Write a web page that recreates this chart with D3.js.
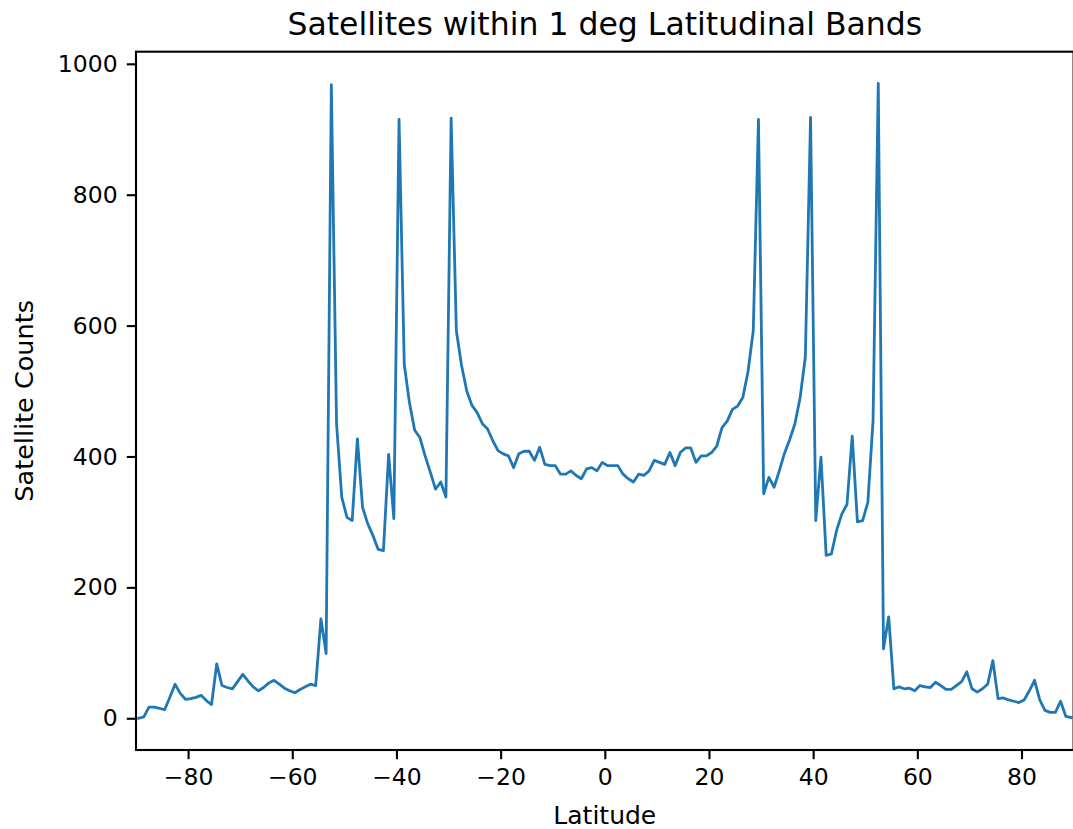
<!DOCTYPE html>
<html>
<head>
<meta charset="utf-8">
<script src="https://cdn.jsdelivr.net/npm/d3@7"></script>
<style>
  html, body { margin: 0; padding: 0; background: #ffffff; }
  svg { display: block; }
  text { font-family: "DejaVu Sans", sans-serif; fill: #000; }
</style>
</head>
<body>
<svg id="chart" width="1073" height="829"></svg>
<script>
// Satellite counts per 1-degree latitude band, band centres from -89.5 to 89.5
const latitudes = d3.range(-89.5, 90, 1);

const countsSouth = [
  0, 2, 17, 17, 15, 13, 32, 52, 38, 29,
  30, 32, 35, 27, 21, 83, 50, 47, 45, 56,
  67, 57, 48, 42, 47, 54, 58, 52, 46, 42,
  39, 44, 48, 52, 50, 152, 99, 968, 450, 338,
  307, 302, 427, 322, 297, 279, 258, 256, 403, 305,
  915, 541, 482, 440, 429, 401, 376, 350, 361, 338,
  917, 592, 539, 500, 478, 467, 450, 442, 424, 409,
  404, 401, 383, 404, 408, 408, 394, 414, 388, 386,
  386, 373, 373, 378, 371, 366, 381, 383, 378, 391
];

const countsNorth = [
  386, 386, 386, 373, 366, 361, 373, 371, 378, 394,
  391, 388, 406, 386, 406, 413, 413, 391, 401, 401,
  406, 416, 444, 454, 472, 477, 490, 530, 592, 915,
  343, 368, 353, 378, 405, 426, 450, 490, 552, 918,
  302, 399, 249, 251, 287, 312, 327, 431, 300, 302,
  330, 455, 970, 106, 155, 45, 48, 45, 46, 42,
  50, 48, 47, 55, 50, 44, 44, 50, 56, 71,
  45, 40, 45, 52, 88, 30, 31, 28, 26, 24,
  28, 42, 58, 28, 12, 9, 9, 26, 3, 1
];

const counts = countsSouth.concat(countsNorth);

const xTicks = [-80, -60, -40, -20, 0, 20, 40, 60, 80];
const yTicks = [0, 200, 400, 600, 800, 1000];

const titleText = "Satellites within 1 deg Latitudinal Bands";
const xLabel = "Latitude";
const yLabel = "Satellite Counts";

// Plot frame
const frame = { left: 136, right: 1073.6, top: 51.7, bottom: 750 };

const x = d3.scaleLinear().domain([-90, 90]).range([frame.left, frame.right]);
const y = d3.scaleLinear().domain([-48.5, 1018.5]).range([frame.bottom, frame.top]);

const svg = d3.select("#chart");

const clipId = "plot-clip";
svg.append("defs").append("clipPath").attr("id", clipId)
  .append("rect")
  .attr("x", frame.left).attr("y", frame.top)
  .attr("width", frame.right - frame.left).attr("height", frame.bottom - frame.top);

// Data line
const line = d3.line()
  .x((d, i) => x(latitudes[i]))
  .y(d => y(d));

svg.append("path")
  .datum(counts)
  .attr("clip-path", `url(#${clipId})`)
  .attr("fill", "none")
  .attr("stroke", "#1f77b4")
  .attr("stroke-width", 2.8)
  .attr("stroke-linejoin", "round")
  .attr("stroke-linecap", "square")
  .attr("d", line);

// Axes
const tickLen = 9.2, tickPad = 9.2;
const fmt = d => d < 0 ? "\u2212" + Math.abs(d) : String(d);

const xAxis = d3.axisBottom(x).tickValues(xTicks).tickFormat(fmt)
  .tickSizeInner(tickLen).tickSizeOuter(0).tickPadding(tickPad);
const yAxis = d3.axisLeft(y).tickValues(yTicks).tickFormat(fmt)
  .tickSizeInner(tickLen).tickSizeOuter(0).tickPadding(tickPad);

const gx = svg.append("g").attr("transform", `translate(0,${frame.bottom})`).call(xAxis);
const gy = svg.append("g").attr("transform", `translate(${frame.left},0)`).call(yAxis);

[gx, gy].forEach(g => {
  g.select(".domain").remove();
  g.selectAll(".tick line").attr("stroke", "#000").attr("stroke-width", 2.1);
  g.selectAll(".tick text")
    .attr("font-family", "DejaVu Sans, sans-serif")
    .attr("font-size", 23.5)
    .attr("fill", "#000");
});

// Spines
svg.append("rect")
  .attr("x", frame.left).attr("y", frame.top)
  .attr("width", frame.right - frame.left).attr("height", frame.bottom - frame.top)
  .attr("fill", "none")
  .attr("stroke", "#000")
  .attr("stroke-width", 2.1);

// Title and axis labels
svg.append("text")
  .attr("x", (frame.left + frame.right) / 2).attr("y", 35)
  .attr("text-anchor", "middle")
  .attr("font-size", 31.5)
  .text(titleText);

svg.append("text")
  .attr("x", (frame.left + frame.right) / 2).attr("y", 824)
  .attr("text-anchor", "middle")
  .attr("font-size", 25)
  .text(xLabel);

svg.append("text")
  .attr("transform", `translate(33,${(frame.top + frame.bottom) / 2}) rotate(-90)`)
  .attr("text-anchor", "middle")
  .attr("font-size", 25.5)
  .text(yLabel);
</script>
</body>
</html>
